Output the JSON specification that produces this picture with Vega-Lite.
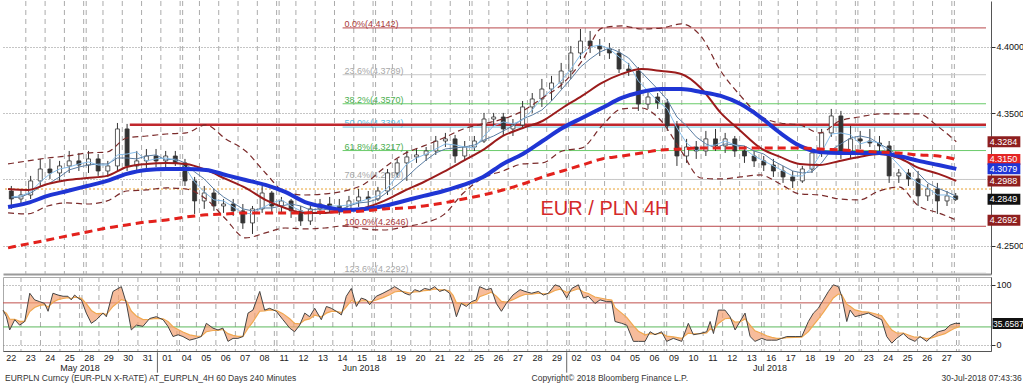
{
"$schema":"https://vega.github.io/schema/vega-lite/v6.json",
"padding":0,
"background":"white",
"spacing":1,
"config":{"view":{"stroke":null},"font":"Liberation Sans","axis":{"labelFont":"Liberation Sans","labelOverlap":false}},
"datasets":{
"candles":[
{"d":0.25,"o":4.2912,"h":4.2950,"l":4.2777,"c":4.2852,"m1":4.2867,"m2":4.2860},
{"d":0.75,"o":4.2852,"h":4.2927,"l":4.2799,"c":4.2882,"m1":4.2875,"m2":4.2867},
{"d":1.25,"o":4.2882,"h":4.3026,"l":4.2852,"c":4.2988,"m1":4.2905,"m2":4.2897},
{"d":1.75,"o":4.2988,"h":4.3154,"l":4.2950,"c":4.3078,"m1":4.2980,"m2":4.2943},
{"d":2.25,"o":4.3078,"h":4.3154,"l":4.3003,"c":4.3048,"m1":4.3041,"m2":4.2973},
{"d":2.75,"o":4.3048,"h":4.3139,"l":4.2988,"c":4.3101,"m1":4.3078,"m2":4.3018},
{"d":3.25,"o":4.3101,"h":4.3214,"l":4.3048,"c":4.3139,"m1":4.3093,"m2":4.3071},
{"d":3.75,"o":4.3139,"h":4.3199,"l":4.3063,"c":4.3108,"m1":4.3116,"m2":4.3093},
{"d":4.25,"o":4.3108,"h":4.3214,"l":4.3048,"c":4.3154,"m1":4.3131,"m2":4.3108},
{"d":4.75,"o":4.3154,"h":4.3191,"l":4.3026,"c":4.3063,"m1":4.3108,"m2":4.3116},
{"d":5.25,"o":4.3063,"h":4.3139,"l":4.3018,"c":4.3101,"m1":4.3108,"m2":4.3116},
{"d":5.75,"o":4.3101,"h":4.3425,"l":4.3063,"c":4.3380,"m1":4.3184,"m2":4.3161},
{"d":6.25,"o":4.3380,"h":4.3418,"l":4.3063,"c":4.3101,"m1":4.3191,"m2":4.3161},
{"d":6.75,"o":4.3101,"h":4.3214,"l":4.3063,"c":4.3139,"m1":4.3206,"m2":4.3154},
{"d":7.25,"o":4.3139,"h":4.3229,"l":4.3078,"c":4.3176,"m1":4.3139,"m2":4.3176},
{"d":7.75,"o":4.3176,"h":4.3229,"l":4.3093,"c":4.3139,"m1":4.3154,"m2":4.3184},
{"d":8.25,"o":4.3139,"h":4.3214,"l":4.3093,"c":4.3176,"m1":4.3161,"m2":4.3146},
{"d":8.75,"o":4.3176,"h":4.3214,"l":4.3101,"c":4.3124,"m1":4.3146,"m2":4.3154},
{"d":9.25,"o":4.3124,"h":4.3154,"l":4.2950,"c":4.2988,"m1":4.3093,"m2":4.3124},
{"d":9.75,"o":4.2988,"h":4.3018,"l":4.2739,"c":4.2837,"m1":4.2980,"m2":4.3056},
{"d":10.25,"o":4.2837,"h":4.2950,"l":4.2777,"c":4.2897,"m1":4.2905,"m2":4.3003},
{"d":10.75,"o":4.2897,"h":4.2927,"l":4.2762,"c":4.2799,"m1":4.2845,"m2":4.2927},
{"d":11.25,"o":4.2799,"h":4.2852,"l":4.2747,"c":4.2814,"m1":4.2837,"m2":4.2867},
{"d":11.75,"o":4.2814,"h":4.2852,"l":4.2724,"c":4.2762,"m1":4.2792,"m2":4.2822},
{"d":12.25,"o":4.2762,"h":4.2814,"l":4.2626,"c":4.2671,"m1":4.2747,"m2":4.2777},
{"d":12.75,"o":4.2671,"h":4.2799,"l":4.2588,"c":4.2777,"m1":4.2739,"m2":4.2762},
{"d":13.25,"o":4.2777,"h":4.2950,"l":4.2747,"c":4.2897,"m1":4.2784,"m2":4.2784},
{"d":13.75,"o":4.2897,"h":4.2912,"l":4.2747,"c":4.2799,"m1":4.2822,"m2":4.2784},
{"d":14.25,"o":4.2799,"h":4.2867,"l":4.2747,"c":4.2837,"m1":4.2845,"m2":4.2799},
{"d":14.75,"o":4.2837,"h":4.2852,"l":4.2709,"c":4.2762,"m1":4.2799,"m2":4.2814},
{"d":15.25,"o":4.2762,"h":4.2799,"l":4.2649,"c":4.2686,"m1":4.2762,"m2":4.2799},
{"d":15.75,"o":4.2686,"h":4.2799,"l":4.2656,"c":4.2777,"m1":4.2739,"m2":4.2769},
{"d":16.25,"o":4.2777,"h":4.2852,"l":4.2732,"c":4.2814,"m1":4.2762,"m2":4.2777},
{"d":16.75,"o":4.2814,"h":4.2867,"l":4.2747,"c":4.2799,"m1":4.2799,"m2":4.2769},
{"d":17.25,"o":4.2799,"h":4.2852,"l":4.2732,"c":4.2777,"m1":4.2799,"m2":4.2769},
{"d":17.75,"o":4.2777,"h":4.2875,"l":4.2747,"c":4.2837,"m1":4.2807,"m2":4.2799},
{"d":18.25,"o":4.2837,"h":4.2927,"l":4.2792,"c":4.2867,"m1":4.2829,"m2":4.2822},
{"d":18.75,"o":4.2867,"h":4.2912,"l":4.2784,"c":4.2852,"m1":4.2852,"m2":4.2829},
{"d":19.25,"o":4.2852,"h":4.2943,"l":4.2837,"c":4.2912,"m1":4.2875,"m2":4.2852},
{"d":19.75,"o":4.2912,"h":4.3078,"l":4.2882,"c":4.3048,"m1":4.2935,"m2":4.2905},
{"d":20.25,"o":4.3048,"h":4.3154,"l":4.3018,"c":4.3124,"m1":4.3026,"m2":4.2958},
{"d":20.75,"o":4.3124,"h":4.3214,"l":4.2988,"c":4.3169,"m1":4.3116,"m2":4.3018},
{"d":21.25,"o":4.3169,"h":4.3229,"l":4.3124,"c":4.3184,"m1":4.3161,"m2":4.3086},
{"d":21.75,"o":4.3184,"h":4.3244,"l":4.3139,"c":4.3214,"m1":4.3191,"m2":4.3146},
{"d":22.25,"o":4.3214,"h":4.3327,"l":4.3184,"c":4.3289,"m1":4.3229,"m2":4.3199},
{"d":22.75,"o":4.3289,"h":4.3350,"l":4.3244,"c":4.3305,"m1":4.3267,"m2":4.3229},
{"d":23.25,"o":4.3305,"h":4.3335,"l":4.3124,"c":4.3176,"m1":4.3259,"m2":4.3237},
{"d":23.75,"o":4.3176,"h":4.3289,"l":4.3139,"c":4.3244,"m1":4.3244,"m2":4.3244},
{"d":24.25,"o":4.3244,"h":4.3327,"l":4.3214,"c":4.3289,"m1":4.3237,"m2":4.3259},
{"d":24.75,"o":4.3289,"h":4.3501,"l":4.3274,"c":4.3455,"m1":4.3327,"m2":4.3297},
{"d":25.25,"o":4.3455,"h":4.3501,"l":4.3403,"c":4.3470,"m1":4.3403,"m2":4.3327},
{"d":25.75,"o":4.3470,"h":4.3501,"l":4.3327,"c":4.3380,"m1":4.3433,"m2":4.3365},
{"d":26.25,"o":4.3380,"h":4.3455,"l":4.3327,"c":4.3410,"m1":4.3418,"m2":4.3403},
{"d":26.75,"o":4.3410,"h":4.3591,"l":4.3380,"c":4.3546,"m1":4.3448,"m2":4.3455},
{"d":27.25,"o":4.3546,"h":4.3651,"l":4.3501,"c":4.3606,"m1":4.3523,"m2":4.3485},
{"d":27.75,"o":4.3606,"h":4.3757,"l":4.3546,"c":4.3681,"m1":4.3614,"m2":4.3523},
{"d":28.25,"o":4.3681,"h":4.3780,"l":4.3591,"c":4.3727,"m1":4.3674,"m2":4.3591},
{"d":28.75,"o":4.3727,"h":4.3878,"l":4.3681,"c":4.3817,"m1":4.3742,"m2":4.3674},
{"d":29.25,"o":4.3817,"h":4.4006,"l":4.3757,"c":4.3953,"m1":4.3832,"m2":4.3757},
{"d":29.75,"o":4.3953,"h":4.4134,"l":4.3908,"c":4.4043,"m1":4.3938,"m2":4.3847},
{"d":30.25,"o":4.4043,"h":4.4119,"l":4.3953,"c":4.4006,"m1":4.3998,"m2":4.3908},
{"d":30.75,"o":4.4006,"h":4.4058,"l":4.3930,"c":4.3983,"m1":4.4013,"m2":4.3960},
{"d":31.25,"o":4.3983,"h":4.4028,"l":4.3908,"c":4.3953,"m1":4.3983,"m2":4.3991},
{"d":31.75,"o":4.3953,"h":4.3983,"l":4.3802,"c":4.3832,"m1":4.3923,"m2":4.3960},
{"d":32.25,"o":4.3832,"h":4.3878,"l":4.3780,"c":4.3817,"m1":4.3870,"m2":4.3915},
{"d":32.75,"o":4.3817,"h":4.3847,"l":4.3516,"c":4.3568,"m1":4.3742,"m2":4.3832},
{"d":33.25,"o":4.3568,"h":4.3666,"l":4.3531,"c":4.3621,"m1":4.3666,"m2":4.3757},
{"d":33.75,"o":4.3621,"h":4.3651,"l":4.3531,"c":4.3576,"m1":4.3591,"m2":4.3681},
{"d":34.25,"o":4.3576,"h":4.3606,"l":4.3365,"c":4.3403,"m1":4.3531,"m2":4.3599},
{"d":34.75,"o":4.3403,"h":4.3440,"l":4.3101,"c":4.3176,"m1":4.3387,"m2":4.3470},
{"d":35.25,"o":4.3176,"h":4.3305,"l":4.3124,"c":4.3244,"m1":4.3274,"m2":4.3403},
{"d":35.75,"o":4.3244,"h":4.3289,"l":4.3154,"c":4.3214,"m1":4.3214,"m2":4.3320},
{"d":36.25,"o":4.3214,"h":4.3365,"l":4.3176,"c":4.3305,"m1":4.3252,"m2":4.3267},
{"d":36.75,"o":4.3305,"h":4.3380,"l":4.3214,"c":4.3252,"m1":4.3259,"m2":4.3237},
{"d":37.25,"o":4.3252,"h":4.3350,"l":4.3199,"c":4.3305,"m1":4.3289,"m2":4.3267},
{"d":37.75,"o":4.3305,"h":4.3327,"l":4.3169,"c":4.3214,"m1":4.3259,"m2":4.3259},
{"d":38.25,"o":4.3214,"h":4.3252,"l":4.3124,"c":4.3176,"m1":4.3229,"m2":4.3252},
{"d":38.75,"o":4.3176,"h":4.3214,"l":4.3093,"c":4.3139,"m1":4.3176,"m2":4.3214},
{"d":39.25,"o":4.3139,"h":4.3176,"l":4.3063,"c":4.3108,"m1":4.3139,"m2":4.3191},
{"d":39.75,"o":4.3108,"h":4.3154,"l":4.3018,"c":4.3063,"m1":4.3101,"m2":4.3139},
{"d":40.25,"o":4.3063,"h":4.3101,"l":4.2973,"c":4.3018,"m1":4.3063,"m2":4.3101},
{"d":40.75,"o":4.3018,"h":4.3063,"l":4.2935,"c":4.2988,"m1":4.3026,"m2":4.3063},
{"d":41.25,"o":4.2988,"h":4.3101,"l":4.2973,"c":4.3078,"m1":4.3026,"m2":4.3048},
{"d":41.75,"o":4.3078,"h":4.3229,"l":4.3048,"c":4.3199,"m1":4.3086,"m2":4.3056},
{"d":42.25,"o":4.3199,"h":4.3380,"l":4.3169,"c":4.3350,"m1":4.3206,"m2":4.3124},
{"d":42.75,"o":4.3350,"h":4.3531,"l":4.3320,"c":4.3478,"m1":4.3342,"m2":4.3222},
{"d":43.25,"o":4.3478,"h":4.3516,"l":4.3154,"c":4.3214,"m1":4.3350,"m2":4.3267},
{"d":43.75,"o":4.3214,"h":4.3403,"l":4.3154,"c":4.3305,"m1":4.3335,"m2":4.3312},
{"d":44.25,"o":4.3305,"h":4.3365,"l":4.3229,"c":4.3289,"m1":4.3267,"m2":4.3327},
{"d":44.75,"o":4.3289,"h":4.3380,"l":4.3244,"c":4.3274,"m1":4.3289,"m2":4.3312},
{"d":45.25,"o":4.3274,"h":4.3327,"l":4.3214,"c":4.3252,"m1":4.3274,"m2":4.3267},
{"d":45.75,"o":4.3252,"h":4.3289,"l":4.2973,"c":4.3026,"m1":4.3184,"m2":4.3229},
{"d":46.25,"o":4.3026,"h":4.3078,"l":4.2973,"c":4.3048,"m1":4.3108,"m2":4.3176},
{"d":46.75,"o":4.3048,"h":4.3078,"l":4.2950,"c":4.3003,"m1":4.3026,"m2":4.3124},
{"d":47.25,"o":4.3003,"h":4.3063,"l":4.2799,"c":4.2875,"m1":4.2973,"m2":4.3048},
{"d":47.75,"o":4.2875,"h":4.2965,"l":4.2837,"c":4.2927,"m1":4.2935,"m2":4.2973},
{"d":48.25,"o":4.2927,"h":4.2973,"l":4.2739,"c":4.2837,"m1":4.2882,"m2":4.2935},
{"d":48.75,"o":4.2837,"h":4.2912,"l":4.2799,"c":4.2875,"m1":4.2882,"m2":4.2905},
{"d":49.2,"o":4.2875,"h":4.2897,"l":4.2837,"c":4.2849,"m1":4.2852,"m2":4.2875}
],
"slow":[
{"d":0.08,"b":4.2792,"r":4.2927,"s":4.2483,"u":4.3116,"w":4.2747},
{"d":1.10,"b":4.2822,"r":4.2920,"s":4.2513,"u":4.3139,"w":4.2739},
{"d":2.13,"b":4.2875,"r":4.2965,"s":4.2543,"u":4.3161,"w":4.2799},
{"d":3.15,"b":4.2912,"r":4.2995,"s":4.2573,"u":4.3176,"w":4.2822},
{"d":4.18,"b":4.2950,"r":4.3010,"s":4.2603,"u":4.3199,"w":4.2814},
{"d":5.21,"b":4.2988,"r":4.3026,"s":4.2633,"u":4.3206,"w":4.2837},
{"d":6.23,"b":4.3041,"r":4.3093,"s":4.2656,"u":4.3312,"w":4.2912},
{"d":7.26,"b":4.3071,"r":4.3116,"s":4.2679,"u":4.3327,"w":4.2920},
{"d":8.29,"b":4.3078,"r":4.3124,"s":4.2694,"u":4.3342,"w":4.2935},
{"d":9.31,"b":4.3078,"r":4.3116,"s":4.2716,"u":4.3350,"w":4.2927},
{"d":10.34,"b":4.3071,"r":4.3071,"s":4.2732,"u":4.3410,"w":4.2852},
{"d":11.36,"b":4.3033,"r":4.3003,"s":4.2739,"u":4.3305,"w":4.2701},
{"d":12.39,"b":4.2995,"r":4.2935,"s":4.2747,"u":4.3214,"w":4.2558},
{"d":13.42,"b":4.2958,"r":4.2845,"s":4.2747,"u":4.3048,"w":4.2596},
{"d":14.44,"b":4.2905,"r":4.2784,"s":4.2747,"u":4.2905,"w":4.2633},
{"d":15.47,"b":4.2829,"r":4.2747,"s":4.2747,"u":4.2882,"w":4.2626},
{"d":16.50,"b":4.2792,"r":4.2747,"s":4.2754,"u":4.2890,"w":4.2633},
{"d":17.52,"b":4.2769,"r":4.2762,"s":4.2754,"u":4.2912,"w":4.2649},
{"d":18.55,"b":4.2777,"r":4.2784,"s":4.2762,"u":4.2965,"w":4.2626},
{"d":19.57,"b":4.2799,"r":4.2837,"s":4.2777,"u":4.3086,"w":4.2618},
{"d":20.60,"b":4.2837,"r":4.2912,"s":4.2784,"u":4.3191,"w":4.2641},
{"d":21.63,"b":4.2875,"r":4.2980,"s":4.2799,"u":4.3252,"w":4.2671},
{"d":22.65,"b":4.2912,"r":4.3056,"s":4.2822,"u":4.3312,"w":4.2732},
{"d":23.68,"b":4.2958,"r":4.3139,"s":4.2852,"u":4.3380,"w":4.2897},
{"d":24.70,"b":4.3018,"r":4.3222,"s":4.2882,"u":4.3418,"w":4.3010},
{"d":25.73,"b":4.3116,"r":4.3327,"s":4.2920,"u":4.3455,"w":4.3063},
{"d":26.76,"b":4.3191,"r":4.3387,"s":4.2965,"u":4.3516,"w":4.3116},
{"d":27.78,"b":4.3289,"r":4.3440,"s":4.3018,"u":4.3614,"w":4.3124},
{"d":28.81,"b":4.3387,"r":4.3538,"s":4.3063,"u":4.3719,"w":4.3214},
{"d":29.83,"b":4.3463,"r":4.3629,"s":4.3108,"u":4.3893,"w":4.3237},
{"d":30.86,"b":4.3538,"r":4.3727,"s":4.3154,"u":4.4141,"w":4.3403},
{"d":31.89,"b":4.3614,"r":4.3795,"s":4.3176,"u":4.4157,"w":4.3531},
{"d":32.91,"b":4.3659,"r":4.3832,"s":4.3199,"u":4.4134,"w":4.3538},
{"d":33.94,"b":4.3681,"r":4.3817,"s":4.3222,"u":4.4141,"w":4.3440},
{"d":34.97,"b":4.3681,"r":4.3795,"s":4.3229,"u":4.4172,"w":4.3214},
{"d":35.99,"b":4.3659,"r":4.3689,"s":4.3237,"u":4.4081,"w":4.3010},
{"d":37.02,"b":4.3629,"r":4.3501,"s":4.3237,"u":4.3817,"w":4.3003},
{"d":38.05,"b":4.3568,"r":4.3365,"s":4.3237,"u":4.3629,"w":4.3018},
{"d":39.07,"b":4.3470,"r":4.3237,"s":4.3237,"u":4.3478,"w":4.3033},
{"d":40.10,"b":4.3350,"r":4.3169,"s":4.3237,"u":4.3425,"w":4.2965},
{"d":41.12,"b":4.3252,"r":4.3116,"s":4.3237,"u":4.3410,"w":4.2890},
{"d":42.15,"b":4.3206,"r":4.3108,"s":4.3229,"u":4.3350,"w":4.2882},
{"d":43.18,"b":4.3199,"r":4.3139,"s":4.3222,"u":4.3440,"w":4.2852},
{"d":44.20,"b":4.3199,"r":4.3169,"s":4.3214,"u":4.3470,"w":4.2845},
{"d":45.23,"b":4.3199,"r":4.3191,"s":4.3206,"u":4.3493,"w":4.2912},
{"d":46.25,"b":4.3176,"r":4.3161,"s":4.3199,"u":4.3493,"w":4.2943},
{"d":47.28,"b":4.3139,"r":4.3086,"s":4.3184,"u":4.3493,"w":4.2799},
{"d":48.31,"b":4.3108,"r":4.3041,"s":4.3176,"u":4.3395,"w":4.2747},
{"d":49.23,"b":4.3079,"r":4.2988,"s":4.3150,"u":4.3284,"w":4.2692}
],
"rsi":[
{"d":0.08,"r":58,"s":56.1},{"d":0.25,"r":47,"s":52.9},{"d":0.42,"r":25,"s":43.1},{"d":0.68,"r":42,"s":42.7},{"d":0.93,"r":33,"s":39.3},
{"d":1.19,"r":39,"s":39.2},{"d":1.45,"r":86,"s":55.6},{"d":1.70,"r":75,"s":62.4},{"d":1.96,"r":72,"s":65.7},{"d":2.21,"r":69,"s":66.9},
{"d":2.39,"r":56,"s":63.1},{"d":2.64,"r":86,"s":71.1},{"d":2.90,"r":83,"s":75.3},{"d":3.16,"r":81,"s":77.3},{"d":3.41,"r":81,"s":78.6},
{"d":3.58,"r":75,"s":77.3},{"d":3.75,"r":83,"s":79.3},{"d":3.93,"r":78,"s":78.8},{"d":4.10,"r":75,"s":77.5},{"d":4.35,"r":53,"s":68.9},
{"d":4.61,"r":36,"s":57.4},{"d":4.87,"r":42,"s":52.0},{"d":5.21,"r":53,"s":52.4},{"d":5.38,"r":47,"s":50.5},{"d":5.72,"r":89,"s":64.0},
{"d":6.15,"r":97,"s":75.5},{"d":6.41,"r":69,"s":73.2},{"d":6.66,"r":25,"s":56.4},{"d":6.92,"r":33,"s":48.2},{"d":7.26,"r":31,"s":42.2},
{"d":7.60,"r":44,"s":42.8},{"d":7.94,"r":47,"s":44.3},{"d":8.29,"r":42,"s":43.5},{"d":8.54,"r":31,"s":39.1},{"d":8.80,"r":14,"s":30.3},
{"d":9.06,"r":17,"s":25.7},{"d":9.31,"r":14,"s":21.6},{"d":9.65,"r":8,"s":16.8},{"d":10.00,"r":11,"s":14.8},{"d":10.25,"r":14,"s":14.5},
{"d":10.51,"r":36,"s":22.0},{"d":10.85,"r":28,"s":24.1},{"d":11.11,"r":25,"s":24.4},{"d":11.36,"r":28,"s":25.7},{"d":11.62,"r":6,"s":18.8},
{"d":11.88,"r":11,"s":16.1},{"d":12.13,"r":11,"s":14.3},{"d":12.39,"r":14,"s":14.2},{"d":12.65,"r":53,"s":27.8},{"d":12.90,"r":58,"s":38.4},
{"d":13.25,"r":89,"s":56.1},{"d":13.50,"r":58,"s":56.8},{"d":13.76,"r":61,"s":58.3},{"d":14.10,"r":56,"s":57.5},{"d":14.44,"r":42,"s":52.1},
{"d":14.79,"r":28,"s":43.6},{"d":15.04,"r":22,"s":36.0},{"d":15.30,"r":33,"s":35.0},{"d":15.56,"r":53,"s":41.3},{"d":15.81,"r":47,"s":43.3},
{"d":16.07,"r":61,"s":49.5},{"d":16.41,"r":42,"s":46.9},{"d":16.67,"r":64,"s":52.9},{"d":16.92,"r":61,"s":55.7},{"d":17.18,"r":56,"s":55.8},
{"d":17.44,"r":50,"s":53.8},{"d":17.69,"r":81,"s":63.3},{"d":17.95,"r":94,"s":74.1},{"d":18.21,"r":64,"s":70.5},{"d":18.46,"r":78,"s":73.1},
{"d":18.72,"r":75,"s":73.8},{"d":18.89,"r":67,"s":71.4},{"d":19.23,"r":81,"s":74.8},{"d":19.57,"r":86,"s":78.7},{"d":19.92,"r":92,"s":83.4},
{"d":20.17,"r":97,"s":88.1},{"d":20.43,"r":92,"s":89.5},{"d":20.69,"r":86,"s":88.3},{"d":20.94,"r":83,"s":86.4},{"d":21.20,"r":92,"s":88.4},
{"d":21.46,"r":89,"s":88.6},{"d":21.71,"r":94,"s":90.5},{"d":21.97,"r":92,"s":91.0},{"d":22.23,"r":97,"s":93.1},{"d":22.48,"r":89,"s":91.7},
{"d":22.74,"r":92,"s":91.8},{"d":22.99,"r":86,"s":89.8},{"d":23.17,"r":69,"s":82.5},{"d":23.34,"r":47,"s":70.1},{"d":23.59,"r":69,"s":69.7},
{"d":23.85,"r":64,"s":67.7},{"d":24.11,"r":72,"s":69.2},{"d":24.36,"r":75,"s":71.2},{"d":24.53,"r":97,"s":80.3},{"d":24.88,"r":92,"s":84.4},
{"d":25.13,"r":94,"s":87.8},{"d":25.39,"r":69,"s":81.2},{"d":25.65,"r":56,"s":72.4},{"d":25.90,"r":69,"s":71.2},{"d":26.24,"r":83,"s":75.3},
{"d":26.61,"r":92,"s":81.2},{"d":26.86,"r":89,"s":83.9},{"d":27.20,"r":86,"s":84.6},{"d":27.55,"r":89,"s":86.1},{"d":27.80,"r":83,"s":85.0},
{"d":28.06,"r":86,"s":85.4},{"d":28.40,"r":100,"s":90.5},{"d":28.66,"r":97,"s":92.8},{"d":29.00,"r":78,"s":87.6},{"d":29.26,"r":94,"s":89.8},
{"d":29.60,"r":100,"s":93.4},{"d":29.86,"r":78,"s":88.0},{"d":30.11,"r":81,"s":85.6},{"d":30.45,"r":69,"s":79.8},{"d":30.71,"r":75,"s":78.1},
{"d":31.05,"r":72,"s":76.0},{"d":31.31,"r":72,"s":74.6},{"d":31.48,"r":39,"s":62.1},{"d":31.82,"r":36,"s":53.0},{"d":32.08,"r":33,"s":46.0},
{"d":32.42,"r":6,"s":32.0},{"d":32.68,"r":6,"s":22.9},{"d":33.02,"r":6,"s":17.0},{"d":33.28,"r":22,"s":18.8},{"d":33.53,"r":17,"s":18.2},
{"d":33.87,"r":22,"s":19.5},{"d":34.13,"r":6,"s":14.8},{"d":34.47,"r":11,"s":13.5},{"d":34.90,"r":6,"s":10.9},{"d":35.24,"r":36,"s":19.7},
{"d":35.50,"r":17,"s":18.7},{"d":35.84,"r":19,"s":18.8},{"d":36.18,"r":22,"s":19.9},{"d":36.36,"r":39,"s":26.6},{"d":36.53,"r":19,"s":23.9},
{"d":36.78,"r":58,"s":35.8},{"d":37.12,"r":58,"s":43.6},{"d":37.38,"r":47,"s":44.8},{"d":37.64,"r":25,"s":37.9},{"d":37.89,"r":39,"s":38.3},
{"d":38.15,"r":53,"s":43.4},{"d":38.41,"r":14,"s":33.1},{"d":38.66,"r":6,"s":23.6},{"d":39.01,"r":11,"s":19.2},{"d":39.26,"r":8,"s":15.3},
{"d":39.52,"r":8,"s":12.7},{"d":39.78,"r":8,"s":11.1},{"d":40.03,"r":11,"s":11.1},{"d":40.29,"r":14,"s":12.1},{"d":40.72,"r":14,"s":12.8},
{"d":41.06,"r":14,"s":13.2},{"d":41.40,"r":39,"s":22.2},{"d":41.66,"r":53,"s":33.0},{"d":41.91,"r":61,"s":42.8},{"d":42.17,"r":75,"s":54.1},
{"d":42.43,"r":89,"s":66.3},{"d":42.68,"r":100,"s":78.1},{"d":42.94,"r":97,"s":84.7},{"d":43.11,"r":81,"s":83.4},{"d":43.37,"r":39,"s":67.9},
{"d":43.54,"r":58,"s":64.4},{"d":43.79,"r":47,"s":58.3},{"d":44.14,"r":50,"s":55.4},{"d":44.48,"r":53,"s":54.6},{"d":44.82,"r":47,"s":51.9},
{"d":45.16,"r":42,"s":48.4},{"d":45.42,"r":14,"s":36.4},{"d":45.68,"r":3,"s":24.7},{"d":45.93,"r":11,"s":19.9},{"d":46.27,"r":19,"s":19.6},
{"d":46.53,"r":11,"s":16.6},{"d":46.87,"r":6,"s":12.9},{"d":47.13,"r":14,"s":13.3},{"d":47.47,"r":6,"s":10.7},{"d":47.73,"r":14,"s":11.9},
{"d":48.07,"r":22,"s":15.4},{"d":48.41,"r":25,"s":18.8},{"d":48.67,"r":33,"s":23.8},{"d":48.93,"r":36,"s":28.1},{"d":49.18,"r":35.6587,"s":30.7}
],
"grid":[
{"d":1},{"d":2},{"d":3},{"d":4},{"d":4.13},{"d":5},{"d":6},{"d":7},{"d":8},{"d":9},{"d":9.13},{"d":10},
{"d":11},{"d":12},{"d":13},{"d":14},{"d":14.13},{"d":15},{"d":16},{"d":17},{"d":18},{"d":19},{"d":19.13},{"d":20},
{"d":21},{"d":22},{"d":23},{"d":24},{"d":24.13},{"d":25},{"d":26},{"d":27},{"d":28},{"d":29},{"d":29.13},{"d":30},
{"d":31},{"d":32},{"d":33},{"d":34},{"d":34.13},{"d":35},{"d":36},{"d":37},{"d":38},{"d":39},{"d":39.13},{"d":40},
{"d":41},{"d":42},{"d":43},{"d":44},{"d":44.13},{"d":45},{"d":46},{"d":47},{"d":48},{"d":49},{"d":49.13}
],
"days":[
{"d":0.5,"t":"22"},{"d":1.5,"t":"23"},{"d":2.5,"t":"24"},{"d":3.5,"t":"25"},{"d":4.5,"t":"28"},{"d":5.5,"t":"29"},{"d":6.5,"t":"30"},{"d":7.5,"t":"31"},
{"d":8.5,"t":"01"},{"d":9.5,"t":"04"},{"d":10.5,"t":"05"},{"d":11.5,"t":"06"},{"d":12.5,"t":"07"},{"d":13.5,"t":"08"},{"d":14.5,"t":"11"},{"d":15.5,"t":"12"},
{"d":16.5,"t":"13"},{"d":17.5,"t":"14"},{"d":18.5,"t":"15"},{"d":19.5,"t":"18"},{"d":20.5,"t":"19"},{"d":21.5,"t":"20"},{"d":22.5,"t":"21"},{"d":23.5,"t":"22"},
{"d":24.5,"t":"25"},{"d":25.5,"t":"26"},{"d":26.5,"t":"27"},{"d":27.5,"t":"28"},{"d":28.5,"t":"29"},{"d":29.5,"t":"02"},{"d":30.5,"t":"03"},{"d":31.5,"t":"04"},
{"d":32.5,"t":"05"},{"d":33.5,"t":"06"},{"d":34.5,"t":"09"},{"d":35.5,"t":"10"},{"d":36.5,"t":"11"},{"d":37.5,"t":"12"},{"d":38.5,"t":"13"},{"d":39.5,"t":"16"},
{"d":40.5,"t":"17"},{"d":41.5,"t":"18"},{"d":42.5,"t":"19"},{"d":43.5,"t":"20"},{"d":44.5,"t":"23"},{"d":45.5,"t":"24"},{"d":46.5,"t":"25"},{"d":47.5,"t":"26"},
{"d":48.5,"t":"27"},{"d":49.5,"t":"30"}
],
"fib":[
{"lv":"0.0%","p":4.4142,"t":"0.0%(4.4142)"},
{"lv":"23.6%","p":4.3789,"t":"23.6%(4.3789)"},
{"lv":"38.2%","p":4.3570,"t":"38.2%(4.3570)"},
{"lv":"50.0%","p":4.3394,"t":"50.0%(4.3394)"},
{"lv":"61.8%","p":4.3217,"t":"61.8%(4.3217)"},
{"lv":"76.4%","p":4.2999,"t":"76.4%(4.2999)"},
{"lv":"100.0%","p":4.2646,"t":"100.0%(4.2646)"},
{"lv":"123.6%","p":4.2292,"t":"123.6%(4.2292)"}
],
"boxes":[
{"k":"bbu","v":4.3284},{"k":"ma200","v":4.3150},{"k":"ma60","v":4.3079},{"k":"ma30","v":4.2988},{"k":"last","v":4.2849},{"k":"bbl","v":4.2692}
]
},
"vconcat":[
{
"width":988,"height":273,
"resolve":{"scale":{"stroke":"independent","fill":"independent","color":"independent"}},
"layer":[
{"data":{"name":"grid"},"mark":{"type":"rule","stroke":"#ababab","strokeWidth":1,"strokeDash":[5,4]},
 "encoding":{"x":{"field":"d","type":"quantitative","title":null,"scale":{"domain":[0.077,50.77],"nice":false,"zero":false},
   "axis":{"labels":false,"ticks":false,"grid":false,"domainColor":"#9a9a9a","domainWidth":2,"title":null}}}},
{"data":{"values":[{}]},"mark":{"type":"rule","stroke":"#e8a030","strokeWidth":1,"strokeDash":[2,2]},"encoding":{"y":{"datum":4.2927}}},
{"data":{"name":"fib"},"mark":{"type":"rule","strokeWidth":1},
 "encoding":{"x":{"datum":17.42},"x2":{"datum":50.77},"y":{"field":"p","type":"quantitative","title":null},
   "stroke":{"field":"lv","type":"nominal","legend":null,"scale":{"domain":["0.0%","23.6%","38.2%","50.0%","61.8%","76.4%","100.0%","123.6%"],"range":["#b8474b","#c8c8c8","#6acb6a","#6cc6e0","#6acb6a","#c8c8c8","#b8474b","#c8c8c8"]}}}},
{"data":{"name":"fib"},"mark":{"type":"text","align":"left","baseline":"alphabetic","fontSize":9,"dy":-1},
 "encoding":{"x":{"datum":17.52},"y":{"field":"p","type":"quantitative","title":null},"text":{"field":"t"},
   "fill":{"field":"lv","type":"nominal","legend":null,"scale":{"domain":["0.0%","23.6%","38.2%","50.0%","61.8%","76.4%","100.0%","123.6%"],"range":["#a83a3a","#a8a8a8","#4caf50","#5bbde0","#4caf50","#a8a8a8","#a83a3a","#a8a8a8"]}}}},
{"data":{"values":[{}]},"mark":{"type":"rule","stroke":"#c0272d","strokeWidth":2.5},"encoding":{"x":{"datum":6.39},"x2":{"datum":50.77},"y":{"datum":4.3412}}},
{"data":{"name":"candles"},"mark":{"type":"rule","stroke":"#333333","strokeWidth":1},
 "encoding":{"x":{"field":"d","type":"quantitative","title":null},
   "y":{"field":"l","type":"quantitative","title":null,"scale":{"domain":[4.2286,4.4345],"nice":false,"zero":false},
     "axis":{"orient":"right","values":[4.25,4.3,4.35,4.4],"format":".4f","labelExpr":"abs(datum.value-4.3)<0.001 ? '' : datum.label","grid":true,"gridDash":[1,2],"gridColor":"#8a8a8a","domainColor":"#555555","tickColor":"#333333","tickSize":4,"labelFontSize":9,"labelColor":"#111111","labelPadding":1,"title":null}},
   "y2":{"field":"h"}}},
{"data":{"name":"candles"},"mark":{"type":"bar","width":4,"stroke":"#333333","strokeWidth":0.8},
 "encoding":{"x":{"field":"d","type":"quantitative","title":null},"y":{"field":"o","type":"quantitative","title":null},"y2":{"field":"c"},
   "fill":{"condition":{"test":"datum.c >= datum.o","value":"#ffffff"},"value":"#333333"}}},
{"data":{"name":"candles"},"mark":{"type":"line","stroke":"#5b7ea3","strokeWidth":1},
 "encoding":{"x":{"field":"d","type":"quantitative","title":null},"y":{"field":"m2","type":"quantitative","title":null}}},
{"data":{"name":"candles"},"mark":{"type":"line","stroke":"#86bce8","strokeWidth":1},
 "encoding":{"x":{"field":"d","type":"quantitative","title":null},"y":{"field":"m1","type":"quantitative","title":null}}},
{"data":{"name":"slow"},"mark":{"type":"line","stroke":"#7a2a2a","strokeWidth":1.2,"strokeDash":[6,4],"interpolate":"monotone"},
 "encoding":{"x":{"field":"d","type":"quantitative","title":null},"y":{"field":"u","type":"quantitative","title":null}}},
{"data":{"name":"slow"},"mark":{"type":"line","stroke":"#7a2a2a","strokeWidth":1.2,"strokeDash":[6,4],"interpolate":"monotone"},
 "encoding":{"x":{"field":"d","type":"quantitative","title":null},"y":{"field":"w","type":"quantitative","title":null}}},
{"data":{"name":"slow"},"mark":{"type":"line","stroke":"#9b1c1c","strokeWidth":2,"interpolate":"monotone"},
 "encoding":{"x":{"field":"d","type":"quantitative","title":null},"y":{"field":"r","type":"quantitative","title":null}}},
{"data":{"name":"slow"},"mark":{"type":"line","stroke":"#1f35d4","strokeWidth":4,"interpolate":"monotone"},
 "encoding":{"x":{"field":"d","type":"quantitative","title":null},"y":{"field":"b","type":"quantitative","title":null}}},
{"data":{"name":"slow"},"mark":{"type":"line","stroke":"#e3211c","strokeWidth":3,"strokeDash":[8,5],"interpolate":"monotone"},
 "encoding":{"x":{"field":"d","type":"quantitative","title":null},"y":{"field":"s","type":"quantitative","title":null}}},
{"data":{"values":[{}]},"mark":{"type":"text","align":"left","baseline":"middle","fontSize":20,"fill":"#d42a2a","text":"EUR / PLN 4H"},
 "encoding":{"x":{"datum":27.68},"y":{"datum":4.2777}}},
{"data":{"name":"boxes"},"mark":{"type":"rect","yOffset":-5.5,"y2Offset":5.5},
 "encoding":{"x":{"datum":50.85},"x2":{"datum":52.55},"y":{"field":"v","type":"quantitative","title":null},"y2":{"field":"v"},
   "fill":{"field":"k","type":"nominal","legend":null,"scale":{"domain":["bbu","ma200","ma60","ma30","last","bbl"],"range":["#8e1f1f","#e42525","#1f35d6","#8e1f1f","#111111","#8e1f1f"]}}}},
{"data":{"name":"boxes"},"mark":{"type":"text","fill":"#ffffff","fontSize":9,"align":"center","baseline":"middle"},
 "encoding":{"x":{"datum":51.68},"y":{"field":"v","type":"quantitative","title":null},"text":{"field":"v","type":"quantitative","format":".4f"}}}
]
},
{
"width":988,"height":74,
"view":{"stroke":"#aaaaaa"},
"layer":[
{"data":{"name":"grid"},"mark":{"type":"rule","stroke":"#ababab","strokeWidth":1,"strokeDash":[5,4]},
 "encoding":{"x":{"field":"d","type":"quantitative","title":null,"scale":{"domain":[0.077,50.77],"nice":false,"zero":false},
   "axis":{"labels":false,"ticks":false,"grid":false,"domainColor":"#555555","title":null}}}},
{"data":{"values":[{}]},"mark":{"type":"rule","stroke":"#c0504d","strokeWidth":1},"encoding":{"y":{"datum":70}}},
{"data":{"values":[{}]},"mark":{"type":"rule","stroke":"#5cb85c","strokeWidth":1},"encoding":{"y":{"datum":30}}},
{"data":{"name":"rsi"},"mark":{"type":"area","fill":"#f4a070","opacity":0.7},
 "encoding":{"x":{"field":"d","type":"quantitative","title":null},"y":{"field":"r","type":"quantitative","title":null},"y2":{"field":"s"}}},
{"data":{"name":"rsi"},"mark":{"type":"line","stroke":"#f0a850","strokeWidth":1.2},
 "encoding":{"x":{"field":"d","type":"quantitative","title":null},"y":{"field":"s","type":"quantitative","title":null}}},
{"data":{"name":"rsi"},"mark":{"type":"line","stroke":"#444444","strokeWidth":1},
 "encoding":{"x":{"field":"d","type":"quantitative","title":null},
   "y":{"field":"r","type":"quantitative","title":null,"scale":{"domain":[-10,113],"nice":false,"zero":false},
     "axis":{"orient":"right","values":[0,50,100],"grid":true,"gridDash":[1,2],"gridColor":"#8a8a8a","domainColor":"#555555","tickColor":"#333333","tickSize":4,"labelFontSize":9,"labelColor":"#111111","labelPadding":1,"title":null}}}},
{"data":{"values":[{"v":35.6587}]},"mark":{"type":"rect","fill":"#111111","yOffset":-5.5,"y2Offset":5.5},
 "encoding":{"x":{"datum":50.85},"x2":{"datum":52.55},"y":{"field":"v","type":"quantitative","title":null},"y2":{"field":"v"}}},
{"data":{"values":[{"v":35.6587}]},"mark":{"type":"text","fill":"#ffffff","fontSize":8.5,"align":"center","baseline":"middle"},
 "encoding":{"x":{"datum":51.66},"y":{"field":"v","type":"quantitative","title":null},"text":{"field":"v","type":"quantitative","format":".4f"}}},
{"data":{"name":"days"},"mark":{"type":"text","fontSize":9,"fill":"#222222","align":"center","baseline":"middle"},
 "encoding":{"x":{"field":"d","type":"quantitative","title":null},"y":{"datum":-22},"text":{"field":"t"}}},
{"data":{"values":[{"d":8},{"d":29}]},"mark":{"type":"rule","stroke":"#666666","strokeWidth":1},
 "encoding":{"x":{"field":"d","type":"quantitative","title":null},"y":{"datum":-12},"y2":{"datum":-46}}},
{"data":{"values":[{"d":4.03,"t":"May 2018"},{"d":18.45,"t":"Jun 2018"},{"d":39.43,"t":"Jul 2018"}]},
 "mark":{"type":"text","fontSize":9,"fill":"#222222","align":"center","baseline":"middle"},
 "encoding":{"x":{"field":"d","type":"quantitative","title":null},"y":{"datum":-39},"text":{"field":"t"}}},
{"data":{"values":[{}]},"mark":{"type":"text","fontSize":8.5,"fill":"#333333","align":"left","baseline":"middle","text":"EURPLN Curncy (EUR-PLN X-RATE) AT_EURPLN_4H 60 Days 240 Minutes"},
 "encoding":{"x":{"datum":0.18},"y":{"datum":-55}}},
{"data":{"values":[{}]},"mark":{"type":"text","fontSize":8.5,"fill":"#333333","align":"left","baseline":"middle","text":"Copyright© 2018 Bloomberg Finance L.P."},
 "encoding":{"x":{"datum":27.2},"y":{"datum":-55}}},
{"data":{"values":[{}]},"mark":{"type":"text","fontSize":8.5,"fill":"#333333","align":"right","baseline":"middle","text":"30-Jul-2018 07:43:36"},
 "encoding":{"x":{"datum":52.35},"y":{"datum":-55}}}
]
}
]
}
